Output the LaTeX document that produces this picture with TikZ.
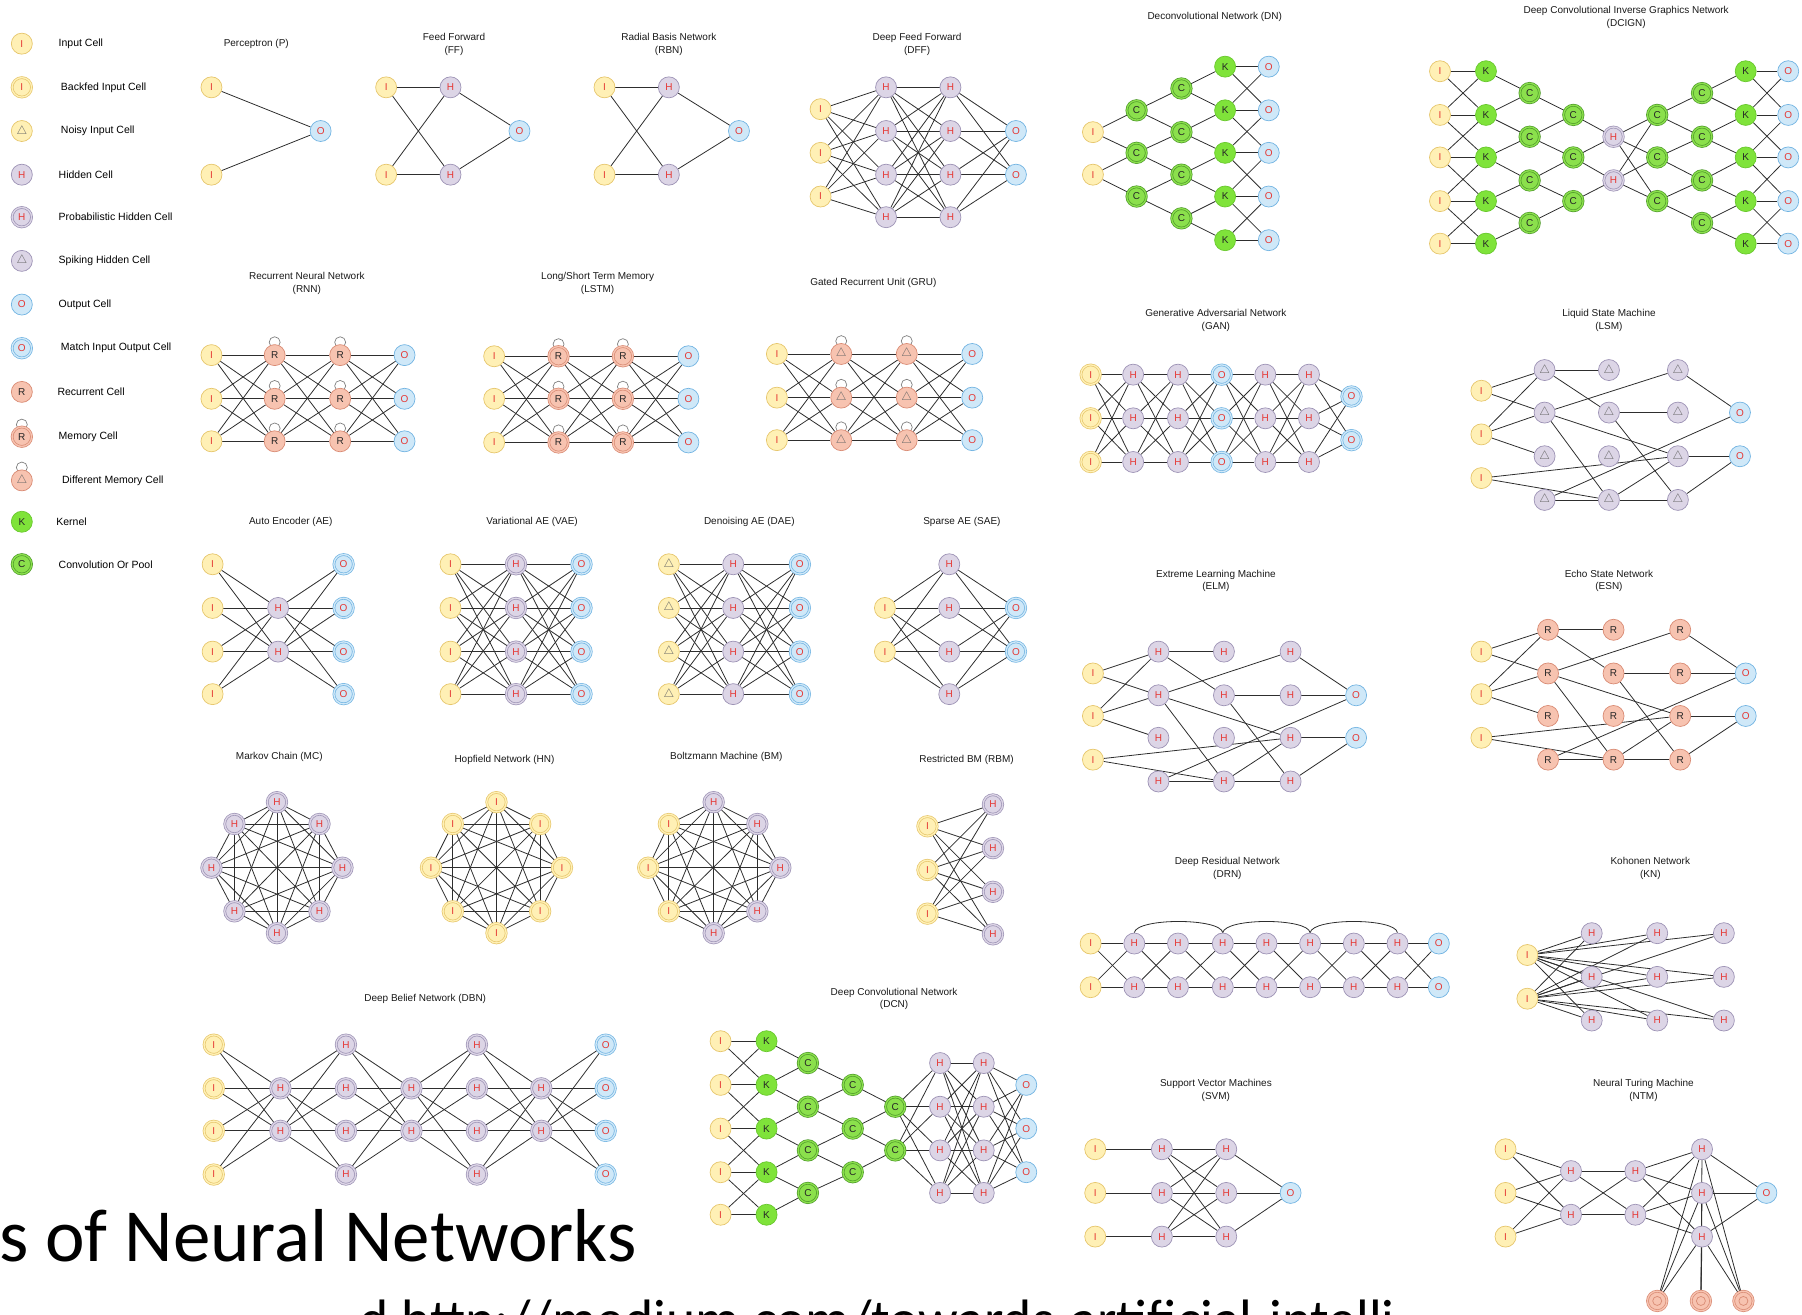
\documentclass[tikz,border=0pt]{standalone}
\usepackage{fontspec}
\setmainfont{Liberation Sans}
\newfontfamily\calibfont{Carlito}
\usetikzlibrary{backgrounds}
\definecolor{inpfill}{HTML}{FFF0B5}
\definecolor{inpdraw}{HTML}{E6C66C}
\definecolor{hidfill}{HTML}{DCD5E6}
\definecolor{hiddraw}{HTML}{9D93B5}
\definecolor{outfill}{HTML}{CFE8F8}
\definecolor{outdraw}{HTML}{72B4E2}
\definecolor{recfill}{HTML}{F7C3B0}
\definecolor{recdraw}{HTML}{D98B74}
\definecolor{kerfill}{HTML}{7FE33A}
\definecolor{kerdraw}{HTML}{69C82E}
\definecolor{convfill}{HTML}{8BE04C}
\definecolor{convdraw}{HTML}{4F9B2B}
\definecolor{lettred}{HTML}{E53935}
\definecolor{wirec}{HTML}{2E2E2E}

\newcommand\trimark{{\fontsize{13}{13}\selectfont$\triangle$}}
\newcommand\netcol[5]{\foreach \yy [count=\kk] in {#5} {\node[#1] (#3\kk) at (#4,\yy) {#2};}}
\newcommand\fullcon[4]{\foreach \ii in {1,...,#2} {\foreach \jj in {1,...,#4} {\draw[wire] (#1\ii) -- (#3\jj);}}}
\newcommand\bandcon[3]{\foreach \ii in {1,...,#3} {\foreach \jj in {1,...,#3} {\pgfmathtruncatemacro\nbdist{abs(\ii-\jj)}\ifnum\nbdist<2 \draw[wire] (#1\ii) -- (#2\jj);\fi}}}
\newcommand\spreadcon[3]{\foreach \ii in {1,...,#3} {\pgfmathtruncatemacro\nbnext{\ii+1}\draw[wire] (#1\ii) -- (#2\ii) (#1\ii) -- (#2\nbnext);}}
\newcommand\cliquecon[1]{\foreach \ii in {1,...,7} {\pgfmathtruncatemacro\nbstart{\ii+1}\foreach \jj in {\nbstart,...,8} {\draw[wire] (#1\ii) -- (#1\jj);}}}
\newcommand\memloops[2]{\foreach \ii in {1,...,#2} {\draw[loopline] ([yshift=2pt]#1\ii.north) circle[radius=5.5pt];}}
\newcommand\reservoir[1]{\foreach \fromn/\ton in {I1/A1,I1/A2,I2/A1,I2/A2,I2/A3,I3/C3,I3/B4,A1/B1,A1/B2,A2/C1,A2/C3,A2/B4,A4/B4,A4/O1,B2/C2,B2/C4,B4/C3,B4/C4,C1/O1,C3/O2,C4/O2} {\draw[wire] (#1\fromn) -- (#1\ton);}}

\begin{document}
\begin{tikzpicture}[x=1.1492pt,y=-1.1492pt,
  cell/.style={circle, draw, minimum size=21pt, inner sep=0pt, line width=0.7pt, font=\fontsize{10}{10}\selectfont},
  dbl/.style={double distance=1.3pt, minimum size=19.5pt},
  inp/.style={cell, fill=inpfill, draw=inpdraw, text=lettred},
  backinp/.style={inp, dbl, double=inpfill},
  noisy/.style={inp, text=black!60},
  hid/.style={cell, fill=hidfill, draw=hiddraw, text=lettred},
  probhid/.style={hid, dbl, double=hidfill},
  spike/.style={hid, text=black!60},
  outc/.style={cell, fill=outfill, draw=outdraw, text=lettred},
  matchout/.style={outc, dbl, double=outfill},
  rec/.style={cell, fill=recfill, draw=recdraw, text=black!85},
  mem/.style={rec, dbl, double=recfill},
  diffmem/.style={rec, text=black!60},
  ntmmem/.style={mem, path picture={\draw[draw=recdraw, line width=0.7pt] (path picture bounding box.center) circle[radius=4.5pt];}},
  kern/.style={cell, fill=kerfill, draw=kerdraw, text=black!85},
  conv/.style={cell, fill=convfill, draw=convdraw, dbl, double=convfill, text=black!85},
  wire/.style={draw=wirec, line width=0.8pt},
  loopline/.style={draw=black!50, line width=0.7pt},
  ttl/.style={align=center, font=\fontsize{10}{12.5}\selectfont, text=black!90},
  lgd/.style={anchor=west, font=\fontsize{10.5}{12}\selectfont, text=black}]
\useasboundingbox (0,0) rectangle (1568,1144);

\node[inp] (lg1) at (19,38) {I};            \node[lgd] (lt1) at (48,38) {Input Cell};
\node[backinp] (lg2) at (19,76) {I};        \node[lgd] (lt2) at (50,76) {Backfed Input Cell};
\node[noisy] (lg3) at (19,114) {\trimark};  \node[lgd] (lt3) at (50,114) {Noisy Input Cell};
\node[hid] (lg4) at (19,152) {H};           \node[lgd] (lt4) at (48,152) {Hidden Cell};
\node[probhid] (lg5) at (19,189) {H};       \node[lgd] (lt5) at (48,189) {Probabilistic Hidden Cell};
\node[spike] (lg6) at (19,227) {\trimark};  \node[lgd] (lt6) at (48,227) {Spiking Hidden Cell};
\node[outc] (lg7) at (19,265) {O};          \node[lgd] (lt7) at (48,265) {Output Cell};
\node[matchout] (lg8) at (19,303) {O};      \node[lgd] (lt8) at (50,303) {Match Input Output Cell};
\node[rec] (lg9) at (19,341) {R};           \node[lgd] (lt9) at (47,341) {Recurrent Cell};
\node[mem] (lg10) at (19,380) {R};          \node[lgd] (lt10) at (48,380) {Memory Cell};
\node[diffmem] (lg11) at (19,418) {\trimark}; \node[lgd] (lt11) at (51,418) {Different Memory Cell};
\node[kern] (lg12) at (19,454) {K};         \node[lgd] (lt12) at (46,454) {Kernel};
\node[conv] (lg13) at (19,491) {C};         \node[lgd] (lt13) at (48,491) {Convolution Or Pool};
\begin{scope}[on background layer]
\draw[loopline] ([yshift=2pt]lg10.north) circle[radius=5.5pt];
\draw[loopline] ([yshift=2pt]lg11.north) circle[radius=5.5pt];
\end{scope}

% first row
\node[ttl] (pT) at (223,38) {Perceptron (P)};
\netcol{inp}{I}{pI}{184}{76,152}
\node[outc] (pO1) at (279,114) {O};

\node[ttl] (ffT) at (395,38.5) {Feed Forward\\(FF)};
\netcol{inp}{I}{ffI}{336}{76,152}
\netcol{hid}{H}{ffH}{392}{76,152}
\node[outc] (ffO1) at (452,114) {O};

\node[ttl] (rbnT) at (582,38.5) {Radial Basis Network\\(RBN)};
\netcol{inp}{I}{rbnI}{526}{76,152}
\netcol{hid}{H}{rbnH}{582}{76,152}
\node[outc] (rbnO1) at (643,114) {O};

\node[ttl] (dffT) at (798,38.5) {Deep Feed Forward\\(DFF)};
\netcol{inp}{I}{dffI}{714}{95,133,171}
\netcol{hid}{H}{dffA}{771}{76,114,152,189}
\netcol{hid}{H}{dffB}{827}{76,114,152,189}
\netcol{outc}{O}{dffO}{884}{114,152}

\node[ttl] (dnT) at (1057,15) {Deconvolutional Network (DN)};
\netcol{inp}{I}{dnI}{951}{115,152}
\netcol{conv}{C}{dnA}{989}{96,133,171}
\netcol{conv}{C}{dnB}{1028}{77,115,152,190}
\netcol{kern}{K}{dnK}{1066}{58,96,133,171,209}
\netcol{outc}{O}{dnO}{1104}{58,96,133,171,209}

\node[ttl] (dciT) at (1415,15) {Deep Convolutional Inverse Graphics Network\\(DCIGN)};
\netcol{inp}{I}{dciI}{1253}{62,100,137,175,212}
\netcol{kern}{K}{dciK}{1293}{62,100,137,175,212}
\netcol{conv}{C}{dciA}{1331}{81,119,157,194}
\netcol{conv}{C}{dciB}{1369}{100,137,175}
\netcol{probhid}{H}{dciH}{1404}{119,157}
\netcol{conv}{C}{dciC}{1442}{100,137,175}
\netcol{conv}{C}{dciD}{1481}{81,119,157,194}
\netcol{kern}{K}{dciL}{1519}{62,100,137,175,212}
\netcol{outc}{O}{dciO}{1556}{62,100,137,175,212}

\begin{scope}[on background layer]
\fullcon{pI}{2}{pO}{1}
\fullcon{ffI}{2}{ffH}{2} \fullcon{ffH}{2}{ffO}{1}
\fullcon{rbnI}{2}{rbnH}{2} \fullcon{rbnH}{2}{rbnO}{1}
\fullcon{dffI}{3}{dffA}{4} \fullcon{dffA}{4}{dffB}{4} \fullcon{dffB}{4}{dffO}{2}
\spreadcon{dnI}{dnA}{2} \spreadcon{dnA}{dnB}{3} \spreadcon{dnB}{dnK}{4} \bandcon{dnK}{dnO}{5}
\bandcon{dciI}{dciK}{5} \spreadcon{dciA}{dciK}{4} \spreadcon{dciB}{dciA}{3} \spreadcon{dciH}{dciB}{2}
\fullcon{dciH}{2}{dciC}{3} \spreadcon{dciC}{dciD}{3} \spreadcon{dciD}{dciL}{4} \bandcon{dciL}{dciO}{5}
\end{scope}

% recurrent row
\node[ttl] (rnnT) at (267,246.5) {Recurrent Neural Network\\(RNN)};
\netcol{inp}{I}{rnnI}{184}{309,347,384}
\netcol{rec}{R}{rnnA}{239}{309,347,384}
\netcol{rec}{R}{rnnB}{296}{309,347,384}
\netcol{outc}{O}{rnnO}{352}{309,347,384}

\node[ttl] (lstmT) at (520,246.5) {Long/Short Term Memory\\(LSTM)};
\netcol{inp}{I}{lstmI}{430}{310,347,385}
\netcol{mem}{R}{lstmA}{486}{310,347,385}
\netcol{mem}{R}{lstmB}{542}{310,347,385}
\netcol{outc}{O}{lstmO}{599}{310,347,385}

\node[ttl] (gruT) at (760,246) {Gated Recurrent Unit (GRU)};
\netcol{inp}{I}{gruI}{676}{308,346,383}
\netcol{diffmem}{\trimark}{gruA}{732}{308,346,383}
\netcol{diffmem}{\trimark}{gruB}{789}{308,346,383}
\netcol{outc}{O}{gruO}{846}{308,346,383}

\node[ttl] (ganT) at (1058,279) {Generative Adversarial Network\\(GAN)};
\netcol{backinp}{I}{ganI}{949}{326,364,402}
\netcol{hid}{H}{ganA}{986}{326,364,402}
\netcol{hid}{H}{ganB}{1025}{326,364,402}
\netcol{matchout}{O}{ganC}{1063}{326,364,402}
\netcol{hid}{H}{ganD}{1101}{326,364,402}
\netcol{hid}{H}{ganE}{1139}{326,364,402}
\netcol{matchout}{O}{ganO}{1176}{345,383}

\node[ttl] (lsmT) at (1400,279) {Liquid State Machine\\(LSM)};
\netcol{inp}{I}{lsmI}{1289}{340,378,416}
\netcol{spike}{\trimark}{lsmA}{1344}{322,359,397,435}
\netcol{spike}{\trimark}{lsmB}{1400}{322,359,397,435}
\netcol{spike}{\trimark}{lsmC}{1460}{322,359,397,435}
\netcol{outc}{O}{lsmO}{1514}{359,397}

\begin{scope}[on background layer]
\fullcon{rnnI}{3}{rnnA}{3} \fullcon{rnnA}{3}{rnnB}{3} \fullcon{rnnB}{3}{rnnO}{3}
\fullcon{lstmI}{3}{lstmA}{3} \fullcon{lstmA}{3}{lstmB}{3} \fullcon{lstmB}{3}{lstmO}{3}
\fullcon{gruI}{3}{gruA}{3} \fullcon{gruA}{3}{gruB}{3} \fullcon{gruB}{3}{gruO}{3}
\memloops{rnnA}{3} \memloops{rnnB}{3} \memloops{lstmA}{3} \memloops{lstmB}{3}
\memloops{gruA}{3} \memloops{gruB}{3}
\fullcon{ganI}{3}{ganA}{3} \fullcon{ganA}{3}{ganB}{3} \fullcon{ganB}{3}{ganC}{3}
\fullcon{ganC}{3}{ganD}{3} \fullcon{ganD}{3}{ganE}{3} \fullcon{ganE}{3}{ganO}{2}
\reservoir{lsm}
\end{scope}

% auto encoders
\node[ttl] (aeT) at (253,454) {Auto Encoder (AE)};
\netcol{inp}{I}{aeI}{185}{491,529,567,604}
\netcol{hid}{H}{aeH}{242}{529,567}
\netcol{matchout}{O}{aeO}{299}{491,529,567,604}

\node[ttl] (vaeT) at (463,454) {Variational AE (VAE)};
\netcol{inp}{I}{vaeI}{392}{491,529,567,604}
\netcol{probhid}{H}{vaeH}{449}{491,529,567,604}
\netcol{matchout}{O}{vaeO}{506}{491,529,567,604}

\node[ttl] (daeT) at (652,454) {Denoising AE (DAE)};
\netcol{noisy}{\trimark}{daeI}{582}{491,529,567,604}
\netcol{hid}{H}{daeH}{638}{491,529,567,604}
\netcol{matchout}{O}{daeO}{696}{491,529,567,604}

\node[ttl] (saeT) at (837,454) {Sparse AE (SAE)};
\netcol{inp}{I}{saeI}{770}{529,567}
\netcol{hid}{H}{saeH}{826}{491,529,567,604}
\netcol{matchout}{O}{saeO}{884}{529,567}

\node[ttl] (elmT) at (1058,505.5) {Extreme Learning Machine\\(ELM)};
\netcol{inp}{I}{elmI}{951}{586,623,661}
\netcol{hid}{H}{elmA}{1008}{567,605,642,680}
\netcol{hid}{H}{elmB}{1065}{567,605,642,680}
\netcol{hid}{H}{elmC}{1123}{567,605,642,680}
\netcol{outc}{O}{elmO}{1180}{605,642}

\node[ttl] (esnT) at (1400,505.5) {Echo State Network\\(ESN)};
\netcol{inp}{I}{esnI}{1289}{567,604,642}
\netcol{rec}{R}{esnA}{1347}{548,586,623,661}
\netcol{rec}{R}{esnB}{1404}{548,586,623,661}
\netcol{rec}{R}{esnC}{1462}{548,586,623,661}
\netcol{outc}{O}{esnO}{1519}{586,623}

\begin{scope}[on background layer]
\fullcon{aeI}{4}{aeH}{2} \fullcon{aeH}{2}{aeO}{4}
\fullcon{vaeI}{4}{vaeH}{4} \fullcon{vaeH}{4}{vaeO}{4}
\fullcon{daeI}{4}{daeH}{4} \fullcon{daeH}{4}{daeO}{4}
\fullcon{saeI}{2}{saeH}{4} \fullcon{saeH}{4}{saeO}{2}
\reservoir{elm} \draw[wire] (elmC2) -- (elmO1);
\reservoir{esn} \draw[wire] (esnC2) -- (esnO1);
\end{scope}

% symmetric nets
\node[ttl] (mcT) at (243,659) {Markov Chain (MC)};
\foreach \xx/\yy [count=\kk] in {241/698,278/717,298/755,278/793,241/812,204/793,184/755,204/717}
  {\node[probhid] (mc\kk) at (\xx,\yy) {H};}
\node[ttl] (hnT) at (439,661) {Hopfield Network (HN)};
\foreach \xx/\yy [count=\kk] in {432/698,470/717,489/755,470/793,432/812,394/793,375/755,394/717}
  {\node[backinp] (hn\kk) at (\xx,\yy) {I};}
\node[ttl] (bmT) at (632,659) {Boltzmann Machine (BM)};
\foreach \xx/\yy [count=\kk] in {621/698,659/717,679/755,659/793,621/812}
  {\node[probhid] (bm\kk) at (\xx,\yy) {H};}
\foreach \xx/\yy [count=\kk from 6] in {582/793,564/755,582/717}
  {\node[backinp] (bm\kk) at (\xx,\yy) {I};}
\node[ttl] (rbmT) at (841,661) {Restricted BM (RBM)};
\netcol{backinp}{I}{rbmI}{807}{719,757,795}
\netcol{probhid}{H}{rbmH}{864}{700,738,776,813}

\node[ttl] (drnT) at (1068,755.5) {Deep Residual Network\\(DRN)};
\netcol{inp}{I}{drnI}{949}{821,859}
\netcol{hid}{H}{drnA}{987}{821,859}
\netcol{hid}{H}{drnB}{1025}{821,859}
\netcol{hid}{H}{drnC}{1064}{821,859}
\netcol{hid}{H}{drnD}{1102}{821,859}
\netcol{hid}{H}{drnE}{1140}{821,859}
\netcol{hid}{H}{drnF}{1178}{821,859}
\netcol{hid}{H}{drnG}{1216}{821,859}
\netcol{outc}{O}{drnO}{1252}{821,859}

\node[ttl] (knT) at (1436,755.5) {Kohonen Network\\(KN)};
\netcol{inp}{I}{knI}{1329}{831,869}
\netcol{hid}{H}{knA}{1385}{812,850,888}
\netcol{hid}{H}{knB}{1442}{812,850,888}
\netcol{hid}{H}{knC}{1500}{812,850,888}

\begin{scope}[on background layer]
\cliquecon{mc} \cliquecon{hn} \cliquecon{bm}
\fullcon{rbmI}{3}{rbmH}{4}
\fullcon{drnI}{2}{drnA}{2} \fullcon{drnA}{2}{drnB}{2} \fullcon{drnB}{2}{drnC}{2} \fullcon{drnC}{2}{drnD}{2}
\fullcon{drnD}{2}{drnE}{2} \fullcon{drnE}{2}{drnF}{2} \fullcon{drnF}{2}{drnG}{2} \fullcon{drnG}{2}{drnO}{2}
\draw[wire] (drnA1.north) .. controls +(2,-13) and +(-2,-13) .. (drnC1.north);
\draw[wire] (drnC1.north) .. controls +(2,-13) and +(-2,-13) .. (drnE1.north);
\draw[wire] (drnE1.north) .. controls +(2,-13) and +(-2,-13) .. (drnG1.north);
\fullcon{knI}{2}{knA}{3} \fullcon{knI}{2}{knB}{3} \fullcon{knI}{2}{knC}{3}
\end{scope}

% bottom row
\node[ttl] (dbnT) at (370,869) {Deep Belief Network (DBN)};
\netcol{backinp}{I}{dbnI}{186}{909,947,984,1022}
\netcol{probhid}{H}{dbnA}{244}{947,984}
\netcol{probhid}{H}{dbnB}{301}{909,947,984,1022}
\netcol{probhid}{H}{dbnC}{358}{947,984}
\netcol{probhid}{H}{dbnD}{415}{909,947,984,1022}
\netcol{probhid}{H}{dbnE}{471}{947,984}
\netcol{matchout}{O}{dbnO}{527}{909,947,984,1022}

\node[ttl] (dcnT) at (778,869) {Deep Convolutional Network\\(DCN)};
\netcol{inp}{I}{dcnI}{627}{906,944,982,1020,1057}
\netcol{kern}{K}{dcnK}{667}{906,944,982,1020,1057}
\netcol{conv}{C}{dcnA}{703}{925,963,1001,1038}
\netcol{conv}{C}{dcnB}{742}{944,982,1020}
\netcol{conv}{C}{dcnC}{779}{963,1001}
\netcol{hid}{H}{dcnD}{818}{925,963,1001,1038}
\netcol{hid}{H}{dcnE}{856}{925,963,1001,1038}
\netcol{outc}{O}{dcnO}{893}{944,982,1020}

\node[ttl] (svmT) at (1058,949) {Support Vector Machines\\(SVM)};
\netcol{inp}{I}{svmI}{953}{1000,1038,1076}
\netcol{hid}{H}{svmA}{1011}{1000,1038,1076}
\netcol{hid}{H}{svmB}{1067}{1000,1038,1076}
\node[outc] (svmO1) at (1123,1038) {O};

\node[ttl] (ntmT) at (1430,949) {Neural Turing Machine\\(NTM)};
\netcol{inp}{I}{ntmI}{1310}{1000,1038,1076}
\netcol{hid}{H}{ntmA}{1367}{1019,1057}
\netcol{hid}{H}{ntmB}{1423}{1019,1057}
\netcol{hid}{H}{ntmC}{1481}{1000,1038,1076}
\node[outc] (ntmO1) at (1537,1038) {O};
\foreach \xx [count=\kk] in {1442,1480,1517} {\node[ntmmem] (ntmM\kk) at (\xx,1132) {};}

\begin{scope}[on background layer]
\fullcon{dbnI}{4}{dbnA}{2} \fullcon{dbnA}{2}{dbnB}{4} \fullcon{dbnB}{4}{dbnC}{2}
\fullcon{dbnC}{2}{dbnD}{4} \fullcon{dbnD}{4}{dbnE}{2} \fullcon{dbnE}{2}{dbnO}{4}
\bandcon{dcnI}{dcnK}{5} \spreadcon{dcnA}{dcnK}{4} \spreadcon{dcnB}{dcnA}{3} \spreadcon{dcnC}{dcnB}{2}
\fullcon{dcnC}{2}{dcnD}{4} \fullcon{dcnD}{4}{dcnE}{4} \fullcon{dcnE}{4}{dcnO}{3}
\foreach \ii in {1,2,3} {\draw[wire] (svmI\ii) -- (svmA\ii);}
\fullcon{svmA}{3}{svmB}{3} \fullcon{svmB}{3}{svmO}{1}
\fullcon{ntmI}{3}{ntmA}{2} \fullcon{ntmA}{2}{ntmB}{2} \fullcon{ntmB}{2}{ntmC}{3}
\fullcon{ntmC}{3}{ntmO}{1} \fullcon{ntmC}{3}{ntmM}{3}
\end{scope}

\node[anchor=base west, inner sep=0pt, font=\calibfont\fontsize{75}{75}\selectfont] (bigT) at (-1,1098) {s of Neural Networks};
\node[anchor=base west, inner sep=0pt, font=\calibfont\fontsize{55.5}{55.5}\selectfont] (urlT) at (313,1165) {d http://medium.com/towards-artificial-intelli};
\end{tikzpicture}
\end{document}
